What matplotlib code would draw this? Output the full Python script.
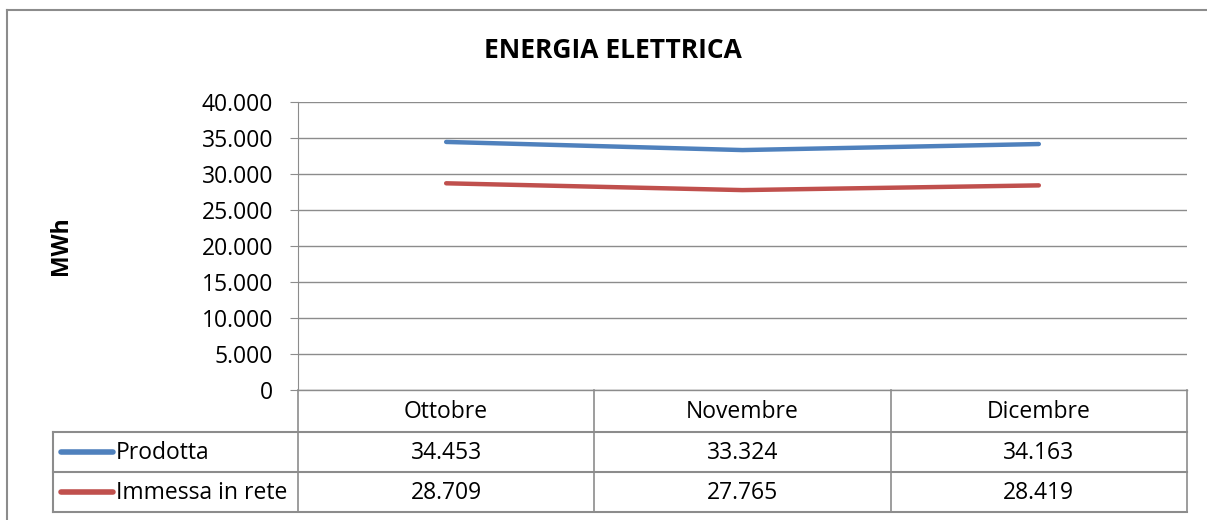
import matplotlib.pyplot as plt
import numpy as np

months = ["Ottobre", "Novembre", "Dicembre"]
series_names = ["Prodotta", "Immessa in rete"]
prodotta = [34453, 33324, 34163]
immessa = [28709, 27765, 28419]
labels_prodotta = ["34.453", "33.324", "34.163"]
labels_immessa = ["28.709", "27.765", "28.419"]
yticks = [0, 5000, 10000, 15000, 20000, 25000, 30000, 35000, 40000]

plt.rcParams['font.family'] = ['Open Sans', 'DejaVu Sans']
FS = 16.5

W, H = 1207, 520
fig = plt.figure(figsize=(W / 100, H / 100), dpi=100)

# outer chart frame
fig.add_artist(plt.Line2D([7 / W, 7 / W], [0, 1 - 10 / H], color='#8c8c8c', lw=1.5))
fig.add_artist(plt.Line2D([7 / W, 1], [1 - 10 / H, 1 - 10 / H], color='#8c8c8c', lw=1.5))

x0, x1 = 298, 1187
y_top, y_bot = 102, 390
ax = fig.add_axes([x0 / W, 1 - y_bot / H, (x1 - x0) / W, (y_bot - y_top) / H])

x = np.arange(len(months))
blue = '#4F81BD'
red = '#C0504D'
ax.plot(x, prodotta, color=blue, lw=3.2, solid_capstyle='round')
ax.plot(x, immessa, color=red, lw=3.2, solid_capstyle='round')

ax.set_xlim(-0.5, 2.5)
ax.set_ylim(0, 40000)
ax.set_yticks(yticks)
ax.set_yticklabels([f"{v:,}".replace(",", ".") for v in yticks], fontsize=FS)
ax.set_xticks([])
ax.grid(axis='y', color='#8c8c8c', lw=1)
ax.set_axisbelow(True)
for s in ['top', 'right', 'bottom']:
    ax.spines[s].set_visible(False)
ax.spines['left'].set_color('#8c8c8c')
ax.tick_params(axis='y', length=6, color='#8c8c8c', pad=12)

ax.set_ylabel("MWh", fontsize=FS, fontweight='bold')
ax.yaxis.set_label_coords(-225 / (x1 - x0), 0.5)
fig.text(613 / W, 1 - 50 / H, "ENERGIA ELETTRICA", fontsize=19, fontweight='bold',
         ha='center', va='center')

# data table below the plot
gc = '#8c8c8c'
ph = y_bot - y_top
def fy(py):
    return (y_bot - py) / ph

xt = ax.get_xaxis_transform()
sx = lambda px: -0.5 + (px - x0) / (x1 - x0) * 3
xl = sx(53)

ax.plot([-0.5, 2.5], [fy(390)] * 2, color=gc, lw=1, transform=xt, clip_on=False)
for r in [432, 472, 512]:
    ax.plot([xl, 2.5], [fy(r)] * 2, color=gc, lw=1.5, transform=xt, clip_on=False)
for xv in [-0.5, 0.5, 1.5, 2.5]:
    ax.plot([xv, xv], [fy(390), fy(512)], color=gc, lw=1.2, transform=xt, clip_on=False)
ax.plot([xl, xl], [fy(432), fy(512)], color=gc, lw=1.5, transform=xt, clip_on=False)

for i, m in enumerate(months):
    ax.text(x[i], fy(412), m, ha='center', va='center', fontsize=FS, transform=xt)
    ax.text(x[i], fy(453), labels_prodotta[i], ha='center', va='center', fontsize=FS, transform=xt)
    ax.text(x[i], fy(493), labels_immessa[i], ha='center', va='center', fontsize=FS, transform=xt)

# legend keys inside the table
for key_y, col, name in [(452, blue, series_names[0]), (492, red, series_names[1])]:
    ax.plot([sx(61), sx(113)], [fy(key_y)] * 2, color=col, lw=4, solid_capstyle='round',
            transform=xt, clip_on=False)
    ax.text(sx(116), fy(key_y + 1), name, ha='left', va='center', fontsize=FS, transform=xt)

fig.savefig("out.png", dpi=100)
